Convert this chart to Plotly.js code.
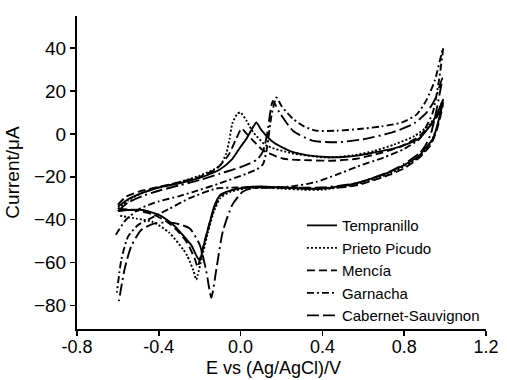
<!DOCTYPE html>
<html>
<head>
<meta charset="utf-8">
<script src="https://cdn.plot.ly/plotly-3.0.1.min.js"></script>
<style>html,body{margin:0;padding:0;background:#fff;}#chart{width:507px;height:380px;}</style>
</head>
<body>
<div id="chart"></div>
<script>
// Series names
const seriesNames = ["Tempranillo", "Prieto Picudo", "Mencía", "Garnacha", "Cabernet-Sauvignon"];

// Tempranillo: potential (V) and current (µA) along the cyclic scan
const tempV = [-0.60,-0.55,-0.48,-0.40,-0.30,-0.20,-0.10,-0.04,0.00,0.03,0.06,0.077,0.10,0.16,0.25,0.33,0.42,0.50,0.58,0.66,0.745,0.82,0.875,0.92,0.96,0.99,
  0.97,0.94,0.90,0.875,0.80,0.73,0.65,0.566,0.48,0.40,0.30,0.20,0.10,0.02,-0.05,-0.10,-0.13,-0.15,-0.175,-0.19,-0.20,-0.215,-0.24,-0.266,-0.33,-0.40,-0.48,-0.55,-0.60];
const tempI = [-34,-30.5,-27.5,-25,-23,-20.5,-16.5,-11.6,-6,-2,3,5.4,2,-3.9,-8.3,-10,-10.8,-10.8,-10,-8.5,-6.9,-4.5,-2,3,9,16,
  7,-2.3,-7,-10,-14.5,-17.7,-20.5,-23,-24.5,-25.5,-25.5,-25,-24.5,-25,-26.5,-28.5,-34,-41,-50,-56,-59,-57,-52,-49,-42.4,-37.8,-35.5,-35.5,-36];

// Prieto Picudo
const prietoV = [-0.60,-0.55,-0.48,-0.40,-0.30,-0.20,-0.14,-0.10,-0.07,-0.054,-0.04,-0.015,0.00,0.03,0.06,0.125,0.25,0.42,0.55,0.65,0.75,0.85,0.92,0.96,0.99,
  0.96,0.93,0.875,0.80,0.73,0.566,0.40,0.30,0.20,0.10,0.02,-0.05,-0.10,-0.13,-0.16,-0.19,-0.21,-0.217,-0.23,-0.26,-0.28,-0.35,-0.43,-0.51,-0.60];
const prietoI = [-35,-31,-27.5,-25,-22.5,-19.5,-17,-14.7,-9,-2.3,5,9.5,10,6,1,-5.4,-9,-11,-10,-8,-5,-1,4,9,16,
  3,-4,-10.5,-15,-18.5,-23.5,-26,-26,-25.5,-25,-25.5,-27,-30,-36,-46,-58,-66,-68,-64,-57,-54,-46,-41,-39.5,-38];

// Mencía
const menciaV = [-0.60,-0.56,-0.50,-0.40,-0.30,-0.20,-0.12,-0.06,-0.02,0.005,0.03,0.06,0.11,0.21,0.34,0.45,0.566,0.68,0.78,0.86,0.92,0.96,0.99,
  0.96,0.93,0.875,0.80,0.73,0.566,0.40,0.20,0.02,-0.05,-0.10,-0.14,-0.17,-0.195,-0.21,-0.225,-0.26,-0.30,-0.36,-0.43,-0.52,-0.60];
const menciaI = [-33,-29.3,-27,-24.7,-22.5,-20,-16.5,-10,-2,2.5,0,-3,-7.7,-11.6,-12.3,-12.5,-11.6,-9,-6,-2,3,8,14,
  2,-5,-11,-16,-19,-24,-25.5,-25,-25,-26.5,-29,-38,-48,-57,-62,-58,-51,-46,-41,-37.5,-35.5,-35];

// Garnacha
const garnachaV = [-0.61,-0.56,-0.49,-0.40,-0.30,-0.23,-0.10,0.03,0.08,0.11,0.13,0.15,0.175,0.20,0.256,0.31,0.37,0.47,0.58,0.69,0.79,0.86,0.91,0.95,0.99,
  0.97,0.94,0.90,0.875,0.80,0.70,0.566,0.47,0.37,0.25,0.10,0.00,-0.12,-0.25,-0.35,-0.453,-0.50,-0.55,-0.583,-0.605];
const garnachaI = [-47,-40,-34.7,-31.5,-29,-27,-23,-18.5,-16.5,-14,-6,8,17,13,7,3.5,1.5,1.5,2.3,3.5,5.4,9,16,25,40,
  25,10,2,-2.3,-7,-11,-15.4,-19,-22.4,-24.5,-25,-25,-25.5,-30,-35,-40,-42.4,-47.8,-58.6,-74];

// Cabernet-Sauvignon
const cabernetV = [-0.60,-0.55,-0.48,-0.40,-0.30,-0.20,-0.10,0.00,0.08,0.11,0.13,0.145,0.158,0.19,0.256,0.35,0.47,0.60,0.745,0.85,0.91,0.95,0.986,
  0.96,0.93,0.90,0.875,0.80,0.73,0.566,0.40,0.20,0.05,0.01,-0.04,-0.087,-0.12,-0.143,-0.168,-0.20,-0.25,-0.33,-0.42,-0.486,-0.535,-0.567,-0.595];
const cabernetI = [-36,-32,-29,-26.5,-24,-21.5,-18.5,-15.5,-12,-8,0,10,15.4,10,1.5,-3.1,-3.9,-2.5,0.8,5,10,16,26,
  12,0,-6,-9,-14,-17.5,-23,-25,-25,-25.5,-27,-33,-45.5,-64,-76.4,-64,-51.7,-44,-41.5,-41.7,-44.8,-52.5,-63,-78];

// Axis ticks
const xTicks = [-0.8, -0.4, 0.0, 0.4, 0.8, 1.2];
const xTickText = ["-0.8", "-0.4", "0.0", "0.4", "0.8", "1.2"];
const yTicks = [-80, -60, -40, -20, 0, 20, 40];
const xTitle = "E vs (Ag/AgCl)/V";
const yTitle = "Current/μA";

const xs = [tempV, prietoV, menciaV, garnachaV, cabernetV];
const ys = [tempI, prietoI, menciaI, garnachaI, cabernetI];
const dashes = ["solid", "2px,2px", "8px,4px", "7px,3px,2px,3px", "12px,4px,12px,4px,2px,4px"];

const traces = seriesNames.map((n, i) => ({
  type: "scatter", mode: "lines", name: n, x: xs[i], y: ys[i],
  line: {color: "#000", width: 1.9, dash: dashes[i], shape: "spline", smoothing: 0.6}
}));

const font = "Liberation Sans, Arial, Helvetica, sans-serif";
const layout = {
  width: 507, height: 380,
  margin: {l: 77, r: 21, t: 16, b: 51, pad: 0},
  paper_bgcolor: "#fff", plot_bgcolor: "#fff",
  font: {family: font, color: "#000", size: 19},
  showlegend: true,
  legend: {x: 0.55, xanchor: "left", y: -0.01, yanchor: "bottom", bgcolor: "rgba(0,0,0,0)",
           font: {family: font, size: 15, color: "#000"}, borderwidth: 0},
  xaxis: {range: [-0.8, 1.2], tickmode: "array", tickvals: xTicks, ticktext: xTickText,
          ticks: "outside", ticklen: 5, tickwidth: 1.5, tickcolor: "#000", ticklabelstandoff: -5,
          showline: true, linewidth: 2, linecolor: "#000", showgrid: false, zeroline: false,
          tickfont: {size: 18}},
  yaxis: {range: [-91, 55], tickmode: "array", tickvals: yTicks,
          ticks: "outside", ticklen: 5, tickwidth: 1.5, tickcolor: "#000",
          showline: true, linewidth: 2, linecolor: "#000", showgrid: false, zeroline: false,
          tickfont: {size: 19}, title: {text: yTitle, font: {size: 19}, standoff: 9}},
  annotations: [{text: xTitle, xref: "paper", yref: "paper", x: 0.48, y: -0.085,
                 xanchor: "center", yanchor: "top", showarrow: false, font: {size: 18}}]
};

Plotly.newPlot("chart", traces, layout, {displayModeBar: false, staticPlot: true});
</script>
</body>
</html>
